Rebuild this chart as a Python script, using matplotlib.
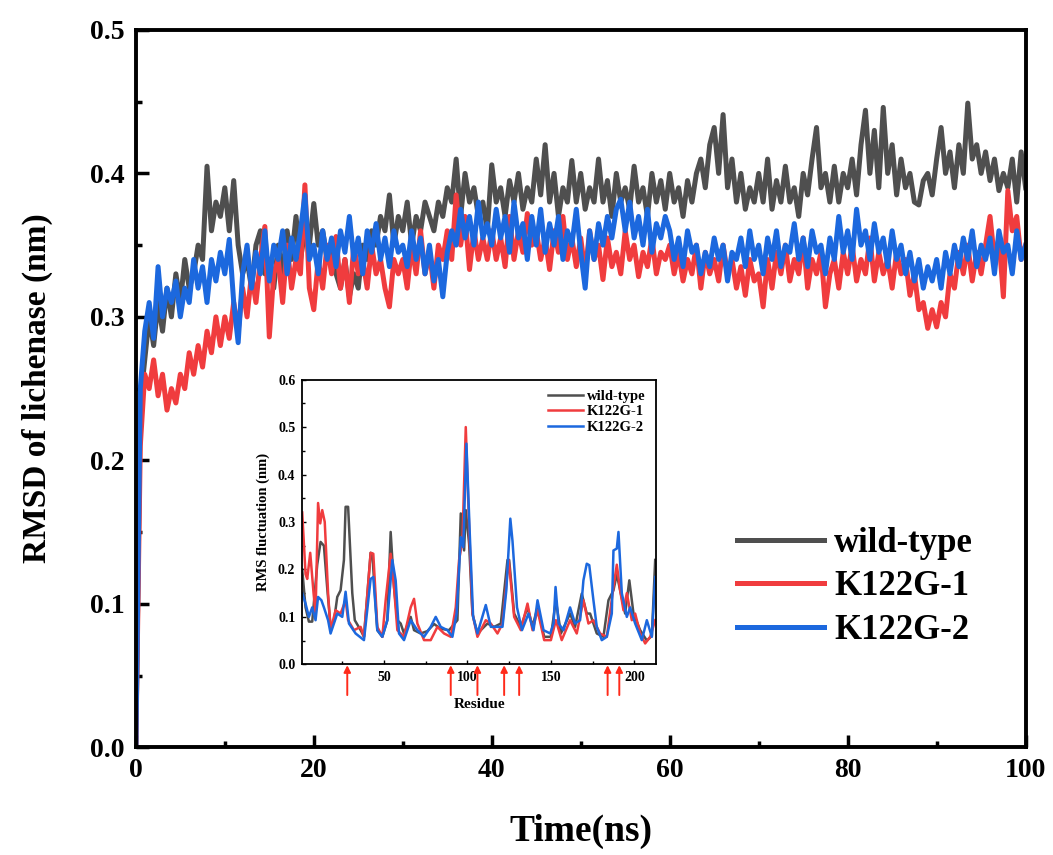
import numpy as np
import matplotlib
matplotlib.use("Agg")
import matplotlib.pyplot as plt
from matplotlib.ticker import MultipleLocator

plt.rcParams['font.family'] = ['Liberation Serif', 'DejaVu Serif']
plt.rcParams['font.weight'] = 'bold'

# ---- main RMSD data (time step 0.5 ns) ----
time_ns = np.arange(0, 100.5, 0.5)

rmsd_wt = [
    0.00, 0.24, 0.27, 0.30, 0.28, 0.31, 0.29, 0.32, 0.30, 0.33, 0.31, 0.34, 0.32, 0.33, 0.35, 0.34, 0.405, 0.36, 0.38, 0.37,
    0.39, 0.36, 0.395, 0.35, 0.33, 0.34, 0.32, 0.35, 0.36, 0.33, 0.34, 0.32, 0.35, 0.33, 0.36, 0.34, 0.37, 0.34, 0.36, 0.35,
    0.379, 0.35, 0.36, 0.34, 0.35, 0.33, 0.32, 0.34, 0.314, 0.33, 0.32, 0.35, 0.34, 0.36, 0.35, 0.37, 0.36, 0.385, 0.35, 0.37,
    0.36, 0.38, 0.35, 0.37, 0.36, 0.38, 0.37, 0.36, 0.38, 0.37, 0.39, 0.38, 0.41, 0.37, 0.40, 0.38, 0.39, 0.37, 0.38, 0.36,
    0.406, 0.38, 0.39, 0.37, 0.395, 0.38, 0.40, 0.375, 0.39, 0.38, 0.41, 0.385, 0.42, 0.38, 0.40, 0.37, 0.39, 0.38, 0.409, 0.38,
    0.40, 0.375, 0.39, 0.38, 0.41, 0.38, 0.395, 0.37, 0.40, 0.38, 0.39, 0.375, 0.405, 0.38, 0.39, 0.37, 0.40, 0.38, 0.395, 0.375,
    0.40, 0.38, 0.39, 0.37, 0.395, 0.38, 0.40, 0.41, 0.39, 0.42, 0.432, 0.40, 0.441, 0.39, 0.41, 0.38, 0.40, 0.375, 0.39, 0.38,
    0.40, 0.38, 0.41, 0.375, 0.395, 0.38, 0.405, 0.38, 0.39, 0.37, 0.40, 0.385, 0.41, 0.432, 0.39, 0.40, 0.38, 0.405, 0.38, 0.40,
    0.39, 0.41, 0.385, 0.42, 0.444, 0.40, 0.43, 0.39, 0.446, 0.40, 0.42, 0.385, 0.41, 0.39, 0.40, 0.38, 0.378, 0.395, 0.40, 0.385,
    0.41, 0.432, 0.40, 0.415, 0.39, 0.42, 0.40, 0.449, 0.41, 0.42, 0.40, 0.415, 0.395, 0.41, 0.388, 0.40, 0.39, 0.41, 0.38, 0.415, 0.39,
]

rmsd_k1 = [
    0.00, 0.21, 0.26, 0.25, 0.27, 0.245, 0.26, 0.235, 0.25, 0.24, 0.26, 0.25, 0.275, 0.26, 0.28, 0.265, 0.29, 0.275, 0.30, 0.28,
    0.30, 0.285, 0.31, 0.29, 0.32, 0.30, 0.33, 0.31, 0.34, 0.363, 0.286, 0.33, 0.34, 0.31, 0.35, 0.32, 0.34, 0.33, 0.392, 0.32,
    0.305, 0.34, 0.32, 0.35, 0.33, 0.356, 0.32, 0.34, 0.31, 0.35, 0.33, 0.34, 0.32, 0.35, 0.33, 0.34, 0.32, 0.307, 0.34, 0.33,
    0.34, 0.32, 0.35, 0.33, 0.36, 0.33, 0.345, 0.32, 0.35, 0.34, 0.36, 0.34, 0.385, 0.35, 0.37, 0.333, 0.36, 0.34, 0.355, 0.34,
    0.36, 0.34, 0.355, 0.335, 0.37, 0.34, 0.36, 0.345, 0.372, 0.35, 0.36, 0.34, 0.355, 0.333, 0.36, 0.345, 0.37, 0.34, 0.355, 0.335,
    0.355, 0.33, 0.36, 0.34, 0.35, 0.326, 0.355, 0.335, 0.345, 0.33, 0.36, 0.34, 0.35, 0.328, 0.345, 0.335, 0.355, 0.33, 0.345, 0.34,
    0.35, 0.33, 0.345, 0.325, 0.34, 0.33, 0.35, 0.32, 0.345, 0.33, 0.34, 0.325, 0.35, 0.33, 0.34, 0.32, 0.335, 0.315, 0.34, 0.325,
    0.33, 0.307, 0.34, 0.32, 0.345, 0.33, 0.35, 0.325, 0.34, 0.33, 0.355, 0.32, 0.34, 0.33, 0.345, 0.307, 0.33, 0.34, 0.32, 0.345,
    0.33, 0.35, 0.325, 0.34, 0.33, 0.355, 0.325, 0.345, 0.33, 0.34, 0.32, 0.345, 0.33, 0.34, 0.315, 0.33, 0.305, 0.31, 0.292, 0.305,
    0.293, 0.31, 0.30, 0.33, 0.32, 0.345, 0.33, 0.35, 0.325, 0.345, 0.33, 0.35, 0.37, 0.34, 0.355, 0.314, 0.388, 0.36, 0.37, 0.34, 0.35,
]

rmsd_k2 = [
    0.00, 0.25, 0.29, 0.31, 0.285, 0.335, 0.30, 0.32, 0.31, 0.325, 0.30, 0.32, 0.31, 0.34, 0.32, 0.335, 0.31, 0.34, 0.325, 0.345,
    0.33, 0.354, 0.31, 0.282, 0.33, 0.35, 0.32, 0.345, 0.33, 0.36, 0.325, 0.35, 0.34, 0.36, 0.33, 0.355, 0.34, 0.36, 0.385, 0.34,
    0.35, 0.33, 0.36, 0.34, 0.355, 0.335, 0.36, 0.345, 0.37, 0.34, 0.355, 0.33, 0.36, 0.345, 0.365, 0.34, 0.355, 0.335, 0.36, 0.345,
    0.35, 0.335, 0.36, 0.34, 0.355, 0.33, 0.35, 0.325, 0.34, 0.314, 0.345, 0.36, 0.35, 0.375, 0.355, 0.37, 0.35, 0.38, 0.355, 0.365,
    0.35, 0.375, 0.355, 0.37, 0.345, 0.38, 0.355, 0.365, 0.34, 0.37, 0.35, 0.375, 0.345, 0.365, 0.35, 0.37, 0.34, 0.36, 0.35, 0.375,
    0.345, 0.32, 0.36, 0.34, 0.365, 0.35, 0.37, 0.355, 0.375, 0.382, 0.36, 0.38, 0.355, 0.37, 0.35, 0.375, 0.345, 0.365, 0.355, 0.37,
    0.36, 0.34, 0.355, 0.335, 0.36, 0.345, 0.35, 0.33, 0.345, 0.335, 0.355, 0.34, 0.35, 0.325, 0.345, 0.34, 0.355, 0.335, 0.36, 0.34,
    0.35, 0.33, 0.355, 0.34, 0.36, 0.335, 0.35, 0.345, 0.365, 0.34, 0.355, 0.335, 0.36, 0.345, 0.35, 0.33, 0.355, 0.34, 0.37, 0.345,
    0.36, 0.34, 0.375, 0.35, 0.36, 0.34, 0.365, 0.345, 0.355, 0.335, 0.36, 0.34, 0.35, 0.33, 0.345, 0.325, 0.34, 0.32, 0.335, 0.325,
    0.34, 0.32, 0.345, 0.33, 0.35, 0.335, 0.355, 0.34, 0.36, 0.335, 0.35, 0.34, 0.355, 0.33, 0.36, 0.345, 0.35, 0.33, 0.36, 0.34, 0.35,
]

# ---- inset RMSF data (residue, value) ----
res_wt = [1, 3, 5, 7, 10, 12, 14, 16, 18, 20, 22, 24, 26, 27, 28.5, 31, 32.5, 36, 38, 42, 43, 46, 49, 52, 54, 56, 58, 60, 62,
          66, 68, 72, 76, 80, 84, 89, 94, 96, 98, 99, 101, 103, 106, 112, 116, 120, 124, 125, 128, 132, 136, 139, 142, 146,
          150, 153, 156, 161.5, 164.5, 168.5, 171.5, 173.5, 177.5, 181.5, 184.5, 187.5, 189.5, 191.5, 194.5, 197, 199.5,
          203.5, 207.5, 210.5, 212.5]
rmsf_wt = [0.20, 0.12, 0.09, 0.09, 0.21, 0.258, 0.25, 0.16, 0.08, 0.09, 0.142, 0.156, 0.22, 0.332, 0.332, 0.15, 0.093, 0.072,
           0.058, 0.235, 0.233, 0.072, 0.058, 0.093, 0.279, 0.163, 0.093, 0.086, 0.065, 0.10, 0.072, 0.065, 0.07, 0.085,
           0.075, 0.072, 0.093, 0.318, 0.24, 0.325, 0.254, 0.107, 0.065, 0.086, 0.079, 0.086, 0.22, 0.22, 0.107, 0.079, 0.12,
           0.08, 0.12, 0.058, 0.058, 0.135, 0.065, 0.107, 0.079, 0.149, 0.107, 0.107, 0.065, 0.058, 0.135, 0.156, 0.19,
           0.156, 0.107, 0.177, 0.107, 0.072, 0.05, 0.06, 0.22]

res_k1 = [1, 3, 4, 5.8, 7.8, 9, 10.5, 11.8, 13, 14.5, 16.5, 18, 21, 24, 27, 28.5, 32, 36, 38, 42, 43.6, 46, 49, 51, 54, 56,
          58, 62, 66, 68, 70, 74, 78, 82, 86, 90, 93, 95, 97, 99, 101, 103, 106, 111, 114, 118, 121, 124.7, 128, 132, 136,
          139, 142, 146, 150, 153, 156.5, 161.5, 165.5, 169.5, 172.5, 175.5, 179.5, 183.5, 187.5, 189.5, 191.5, 193.5,
          195.5, 198.5, 200.5, 203.5, 206.5, 209.5, 212.5]
rmsf_k1 = [0.32, 0.19, 0.18, 0.235, 0.15, 0.107, 0.34, 0.297, 0.325, 0.30, 0.15, 0.072, 0.114, 0.107, 0.135, 0.093, 0.072,
           0.079, 0.058, 0.235, 0.233, 0.079, 0.058, 0.135, 0.233, 0.163, 0.072, 0.058, 0.12, 0.138, 0.086, 0.051, 0.051,
           0.079, 0.065, 0.058, 0.12, 0.22, 0.26, 0.50, 0.29, 0.107, 0.058, 0.093, 0.086, 0.065, 0.086, 0.22, 0.10, 0.072,
           0.128, 0.072, 0.114, 0.051, 0.051, 0.093, 0.051, 0.093, 0.065, 0.135, 0.086, 0.093, 0.065, 0.058, 0.163, 0.21,
           0.156, 0.114, 0.15, 0.093, 0.107, 0.065, 0.044, 0.058, 0.093]

res_k2 = [1, 3, 5, 7, 9, 10.5, 12.5, 14, 16.5, 18, 22, 25, 27, 29, 33, 38, 42, 43.6, 46, 49, 52, 55, 57, 59, 62, 66, 70,
          74, 78, 81, 84, 88, 91, 93.5, 96, 97.5, 99.4, 101.4, 103.4, 106, 111, 114, 118, 121, 123.3, 125.7, 127, 129.7,
          132.7, 136.6, 139.6, 142, 145.6, 149.6, 151.6, 152.8, 154.6, 157.6, 161.5, 164.5, 167.5, 169.5, 171.5, 173,
          175.5, 177.5, 180.5, 183.5, 186.5, 187.5, 189.5, 190.5, 192.5, 195.5, 197.5, 200.5, 204.5, 207.5, 210.5, 212.5]
rmsf_k2 = [0.15, 0.128, 0.10, 0.12, 0.093, 0.142, 0.135, 0.12, 0.093, 0.065, 0.107, 0.10, 0.153, 0.086, 0.065, 0.051, 0.18,
           0.184, 0.072, 0.058, 0.093, 0.22, 0.177, 0.065, 0.051, 0.093, 0.072, 0.058, 0.079, 0.10, 0.079, 0.072, 0.058,
           0.107, 0.268, 0.247, 0.465, 0.275, 0.10, 0.065, 0.125, 0.079, 0.079, 0.079, 0.156, 0.307, 0.26, 0.12, 0.072,
           0.107, 0.072, 0.135, 0.072, 0.065, 0.086, 0.163, 0.086, 0.072, 0.12, 0.086, 0.093, 0.177, 0.212, 0.209, 0.135,
           0.079, 0.051, 0.058, 0.107, 0.24, 0.244, 0.279, 0.15, 0.10, 0.12, 0.086, 0.051, 0.093, 0.058, 0.184]

arrow_residues = [28, 90, 106, 122, 131, 184, 191]

labels = ['wild-type', 'K122G-1', 'K122G-2']
colors = ['#4f4f4f', '#f03c3e', '#1c68de']

fig = plt.figure(figsize=(10.53, 8.55), dpi=100)
ax = fig.add_axes([0.129, 0.126, 0.845, 0.839])

for y, lab, c in zip([rmsd_wt, rmsd_k1, rmsd_k2], labels, colors):
    ax.plot(time_ns, y, color=c, lw=3.6, label=lab)

ax.set_xlim(0, 100)
ax.set_ylim(0, 0.5)
ax.xaxis.set_major_locator(MultipleLocator(20))
ax.xaxis.set_minor_locator(MultipleLocator(10))
ax.yaxis.set_major_locator(MultipleLocator(0.1))
ax.yaxis.set_minor_locator(MultipleLocator(0.05))
ax.tick_params(which='major', direction='in', length=9, width=2.5, labelsize=20, pad=8)
ax.tick_params(which='minor', direction='in', length=4, width=2.5)
for s in ax.spines.values():
    s.set_linewidth(2.8)
for t in ax.get_xticklabels() + ax.get_yticklabels():
    t.set_fontweight('bold')
ax.set_xlabel('Time(ns)', fontsize=27, fontweight='bold', labelpad=22)
ax.set_ylabel('RMSD of lichenase (nm)', fontsize=24, fontweight='bold', labelpad=27)

leg = ax.legend(loc='center left', bbox_to_anchor=(0.700, 0.3135), bbox_transform=fig.transFigure,
                frameon=False, fontsize=25, handlelength=2.5, handletextpad=0.3, labelspacing=0.3,
                borderaxespad=0, borderpad=0)
for t in leg.get_texts():
    t.set_fontweight('bold')

# ---- inset ----
ins = fig.add_axes([0.287, 0.223, 0.336, 0.333])
for r, y, lab, c in zip([res_wt, res_k1, res_k2], [rmsf_wt, rmsf_k1, rmsf_k2], labels, colors):
    ins.plot(r, y, color=c, lw=1.8, label=lab)
ins.set_xlim(1, 213)
ins.set_ylim(0, 0.6)
ins.xaxis.set_major_locator(MultipleLocator(50))
ins.xaxis.set_minor_locator(MultipleLocator(25))
ins.yaxis.set_major_locator(MultipleLocator(0.1))
ins.yaxis.set_minor_locator(MultipleLocator(0.05))
ins.tick_params(which='major', direction='in', length=3, width=1, labelsize=10, pad=5)
ins.tick_params(which='minor', direction='in', length=2, width=1)
for s in ins.spines.values():
    s.set_linewidth(1.3)
for t in ins.get_xticklabels() + ins.get_yticklabels():
    t.set_fontweight('bold')
ins.set_xlabel('Residue', fontsize=11, fontweight='bold', labelpad=10)
ins.set_ylabel('RMS fluctuation (nm)', fontsize=10.5, fontweight='bold', labelpad=6)
il = ins.legend(loc='upper right', frameon=False, fontsize=10.5, handlelength=2.4, handletextpad=0.3,
                labelspacing=0.15, borderaxespad=0.3)
for t in il.get_texts():
    t.set_fontweight('bold')

for r in arrow_residues:
    ins.annotate('', xy=(r, -0.003), xycoords=('data', 'axes fraction'),
                 xytext=(r, -0.108), textcoords=('data', 'axes fraction'),
                 arrowprops=dict(arrowstyle='-|>', color='#ff2a1a', lw=1.4, mutation_scale=10,
                                 shrinkA=0, shrinkB=0))

fig.savefig('out.png', dpi=100)
